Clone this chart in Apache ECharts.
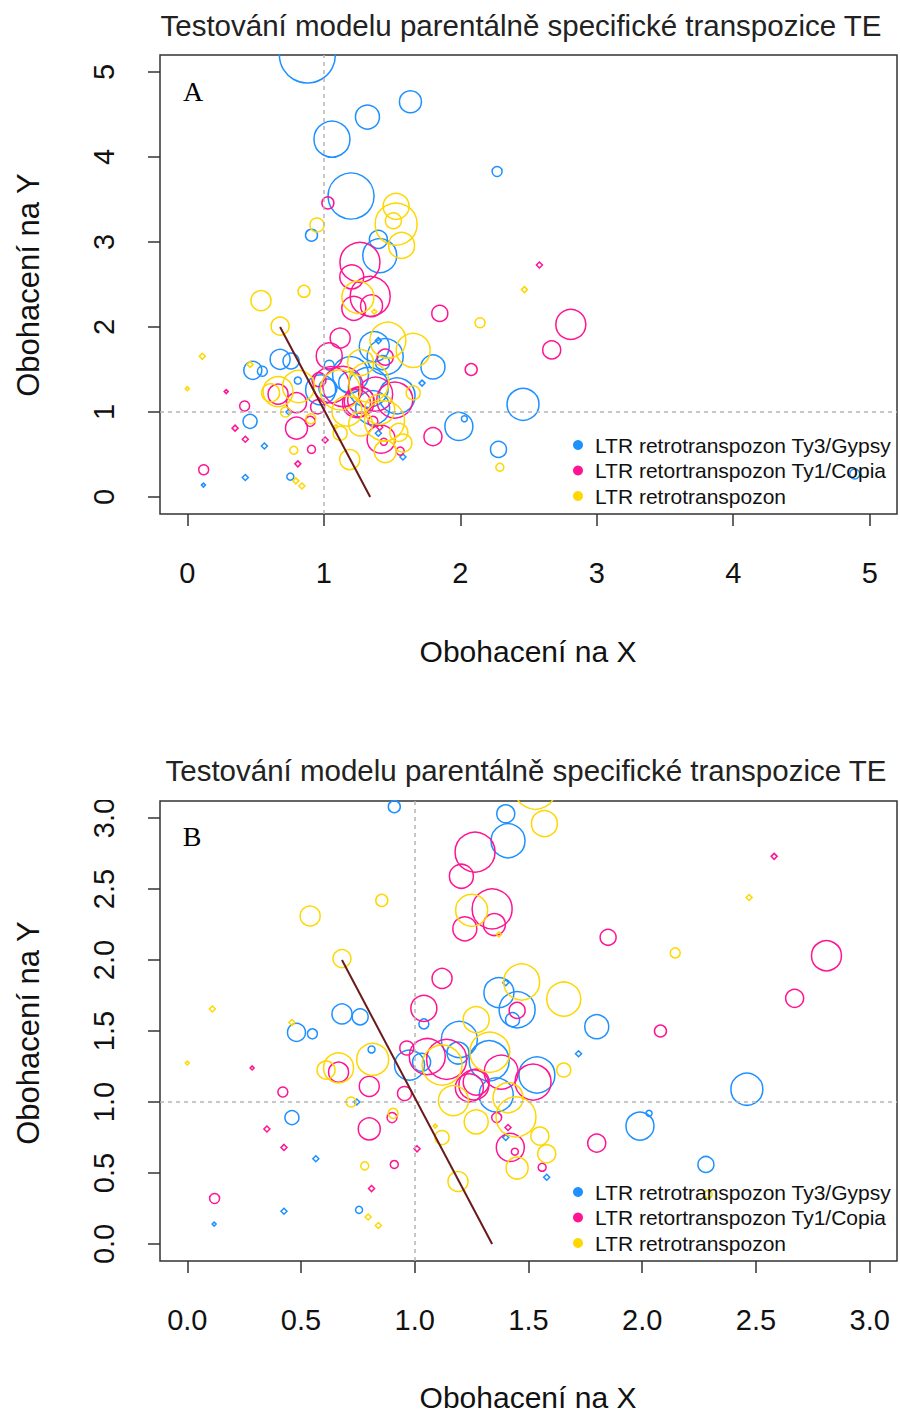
<!DOCTYPE html>
<html>
<head>
<meta charset="utf-8">
<script src="https://cdn.jsdelivr.net/npm/echarts@6/dist/echarts.min.js"></script>
<style>
html,body{margin:0;padding:0;background:#fff;}
#chart{width:900px;height:1412px;}
</style>
</head>
<body>
<div id="chart"></div>
<script>
// ---------- DATA ----------
const seriesNames = ['LTR retrotranspozon Ty3/Gypsy', 'LTR retortranspozon Ty1/Copia', 'LTR retrotranspozon'];

const gypsyX = [0.88,1.635,1.32,1.06,1.20,0.91,2.27,4.89,1.40,1.41,0.48,0.55,0.68,0.76,0.81,0.46,0.425,0.565,0.118,0.755,0.745,1.196,1.327,1.537,0.977,1.03,1.19,1.358,1.45,1.37,1.43,1.80,1.72,1.99,2.03,2.46,2.28,1.58,1.40,1.40,1.04];
const gypsyY = [5.2,4.65,4.47,4.21,3.54,3.08,3.83,0.27,3.03,2.84,1.49,1.48,1.62,1.60,1.37,0.89,0.23,0.60,0.14,0.24,1.00,1.44,1.29,1.19,1.26,1.28,1.345,1.05,1.65,1.77,1.58,1.53,1.34,0.83,0.92,1.09,0.56,0.47,0.75,1.84,1.55];
const gypsyW = [28,11,12,18,23,6,5,5,9,17,9,5,10,8,3.5,7,2,2,1,3.5,2,18,20,18,15,9,11,17,18,15,7,12,2,14,3,16,8,2,2,2,5];

const copiaX = [1.03,2.58,2.81,2.67,2.08,1.85,1.80,1.56,1.42,1.44,1.01,0.81,0.91,0.12,0.35,0.425,0.42,0.285,0.665,0.80,0.80,0.90,0.955,1.04,1.12,1.205,1.265,1.34,1.22,1.35,0.965,1.055,1.26,1.27,1.24,1.14,1.38,1.52,1.36,1.41,1.45];
const copiaY = [3.46,2.73,2.03,1.73,1.50,2.16,0.71,0.54,0.68,0.65,0.67,0.39,0.56,0.32,0.81,0.68,1.07,1.24,1.21,1.11,0.81,0.89,1.06,1.66,1.87,2.59,2.76,2.36,2.22,2.25,1.38,1.32,1.12,1.14,1.10,1.30,1.21,1.14,0.89,0.82,1.645];
const copiaW = [6,2,15,9,6,8,9,4,14,3.5,2,2,4,5,2,2,5,1,10,10,11,5,7,13,10,12,20,20,12,11,7,18,15,13,14,20,17,18,5,2,8];

const ltrX = [1.53,1.53,1.51,1.57,0.95,2.47,2.145,2.29,0.11,0.54,0.855,0.68,1.25,1.37,0.46,0.0,0.61,0.665,0.815,0.72,0.905,0.78,0.795,0.84,1.19,1.12,1.09,1.27,1.33,1.12,1.17,1.27,1.41,1.445,1.55,1.58,1.45,1.655,1.655,1.47];
const ltrY = [3.42,3.21,3.25,2.96,3.20,2.44,2.05,0.35,1.655,2.31,2.42,2.01,2.35,2.18,1.56,1.275,1.225,1.24,1.30,1.00,0.92,0.55,0.19,0.13,0.44,0.75,0.83,1.58,1.35,1.26,1.01,0.86,1.03,0.895,0.76,0.635,0.535,1.225,1.725,1.845];
const ltrW = [13,21,8,13,7,2,5,4,2,10,6,9,16,1.5,2,1,9,15,16,5,5,4,2,2,10,7,1,13,20,20,15,12,15,20,9,9,11,7,17,18];

// separating line (dark red)
const cutX = [0.68, 1.34];
const cutY = [2.0, 0.0];

// reference dashed lines
const refX = 1;
const refY = 1;

// tick values / labels
const ticksA = [0, 1, 2, 3, 4, 5];
const tickLabelsA = ['0', '1', '2', '3', '4', '5'];
const ticksB = [0, 0.5, 1.0, 1.5, 2.0, 2.5, 3.0];
const tickLabelsB = ['0.0', '0.5', '1.0', '1.5', '2.0', '2.5', '3.0'];

const titleText = 'Testování modelu parentálně specifické transpozice TE';
const xName = 'Obohacení na X';
const yName = 'Obohacení na Y';
const panelLabels = ['A', 'B'];

// ---------- STYLE ----------
const colors = ['#1E90FF', '#FF1493', '#FFD700'];
const sans = "'Liberation Sans', Arial, sans-serif";
const serif = "'Liberation Serif', 'Times New Roman', serif";

function pts(xs, ys, ws, lim) {
  return xs.map((x, i) => [x, ys[i], ws[i]]).filter(p => p[0] <= lim && p[1] <= lim);
}

const raw = [[gypsyX, gypsyY, gypsyW], [copiaX, copiaY, copiaW], [ltrX, ltrY, ltrW]];

const panels = [
  { min: -0.2, max: 5.2, lim: 5.4, ticks: ticksA, labels: tickLabelsA, top: 55, bottom: 898 },
  { min: -0.12, max: 3.12, lim: 3.3, ticks: ticksB, labels: tickLabelsB, top: 801, bottom: 151 }
];

const grids = [], xAxes = [], yAxes = [], series = [], legends = [];

panels.forEach((p, pi) => {
  grids.push({ left: 160, right: 3, top: p.top, bottom: p.bottom, show: true,
    borderColor: '#333', borderWidth: 1.5, backgroundColor: 'transparent' });
  const fmt = (v) => { const k = p.ticks.findIndex(t => Math.abs(t - v) < 1e-9); return k >= 0 ? p.labels[k] : ''; };
  xAxes.push({ gridIndex: pi, type: 'value', min: p.min, max: p.max, position: 'bottom',
    axisLine: { show: false, onZero: false }, splitLine: { show: false },
    axisTick: { show: true, inside: false, length: 12, customValues: p.ticks, lineStyle: { color: '#333', width: 1.5 } },
    axisLabel: { customValues: p.ticks, formatter: fmt, fontSize: 29, fontFamily: sans, color: '#111', margin: 44 } });
  yAxes.push({ gridIndex: pi, type: 'value', min: p.min, max: p.max, position: 'left',
    axisLine: { show: false, onZero: false }, splitLine: { show: false },
    axisTick: { show: true, inside: false, length: 12, customValues: p.ticks, lineStyle: { color: '#333', width: 1.5 } },
    axisLabel: { customValues: p.ticks, formatter: fmt, fontSize: 29, fontFamily: sans, color: '#111', margin: 42, rotate: 90 } });

  raw.forEach((r, si) => {
    series.push({
      name: seriesNames[si], type: 'scatter', xAxisIndex: pi, yAxisIndex: pi,
      clip: false, z: 3,
      data: pts(r[0], r[1], r[2], p.lim),
      symbol: (v) => v[2] <= 2 ? 'diamond' : 'circle',
      symbolSize: (v) => v[2] <= 2 ? v[2] * 2 + 2 : v[2] * 2,
      itemStyle: { color: 'rgba(0,0,0,0)', borderColor: colors[si], borderWidth: 1.5, opacity: 1 },
      emphasis: { disabled: true }
    });
  });

  // dashed reference lines
  series.push({
    type: 'line', xAxisIndex: pi, yAxisIndex: pi, data: [], silent: true, z: 4,
    markLine: { silent: true, symbol: 'none', animation: false, label: { show: false },
      lineStyle: { type: [4, 4], color: '#b5b5b5', width: 1.5 },
      data: [{ xAxis: refX }, { yAxis: refY }] }
  });
  // dark red separating line
  series.push({
    type: 'line', xAxisIndex: pi, yAxisIndex: pi, z: 5, silent: true, symbol: 'none',
    data: cutX.map((x, i) => [x, cutY[i]]),
    lineStyle: { color: '#6B1A1A', width: 2 }
  });

  legends.push({
    show: true, orient: 'vertical', left: 568, top: pi === 0 ? 429 : 1176,
    itemWidth: 24, itemHeight: 10, itemGap: 3.5, icon: 'circle', selectedMode: false,
    textStyle: { fontSize: 21, fontFamily: sans, color: '#111', lineHeight: 22 },
    data: seriesNames.map((n, k) => ({ name: n, itemStyle: { color: colors[k], borderWidth: 0 } }))
  });
});

const graphics = [
  // masks above plot boxes (clip overflowing circles)
  { type: 'rect', shape: { x: 0, y: 0, width: 900, height: 54 }, style: { fill: '#fff' }, z: 100, silent: true },
  { type: 'rect', shape: { x: 0, y: 700, width: 900, height: 100 }, style: { fill: '#fff' }, z: 100, silent: true },
  // titles
  { type: 'text', x: 521, y: 25, z: 110, style: { text: titleText, fontSize: 29.5, fontFamily: sans, fill: '#222', align: 'center', verticalAlign: 'middle' } },
  { type: 'text', x: 526, y: 770, z: 110, style: { text: titleText, fontSize: 29.5, fontFamily: sans, fill: '#222', align: 'center', verticalAlign: 'middle' } },
  // axis names
  { type: 'text', x: 528, y: 651, z: 110, style: { text: xName, fontSize: 30, fontFamily: sans, fill: '#111', align: 'center', verticalAlign: 'middle' } },
  { type: 'text', x: 528, y: 1397, z: 110, style: { text: xName, fontSize: 30, fontFamily: sans, fill: '#111', align: 'center', verticalAlign: 'middle' } },
  { type: 'text', x: 28, y: 285, rotation: Math.PI / 2, z: 110, style: { text: yName, fontSize: 31, fontFamily: sans, fill: '#111', align: 'center', verticalAlign: 'middle' } },
  { type: 'text', x: 28, y: 1033, rotation: Math.PI / 2, z: 110, style: { text: yName, fontSize: 31, fontFamily: sans, fill: '#111', align: 'center', verticalAlign: 'middle' } },
  // panel letters
  { type: 'text', x: 193, y: 91, z: 110, style: { text: panelLabels[0], fontSize: 28, fontFamily: serif, fill: '#000', align: 'center', verticalAlign: 'middle' } },
  { type: 'text', x: 192, y: 836, z: 110, style: { text: panelLabels[1], fontSize: 28, fontFamily: serif, fill: '#000', align: 'center', verticalAlign: 'middle' } }
];

const chart = echarts.init(document.getElementById('chart'), null, { renderer: 'svg' });
chart.setOption({
  backgroundColor: '#fff',
  animation: false,
  grid: grids,
  xAxis: xAxes,
  yAxis: yAxes,
  legend: legends,
  series: series,
  graphic: graphics
});
</script>
</body>
</html>
